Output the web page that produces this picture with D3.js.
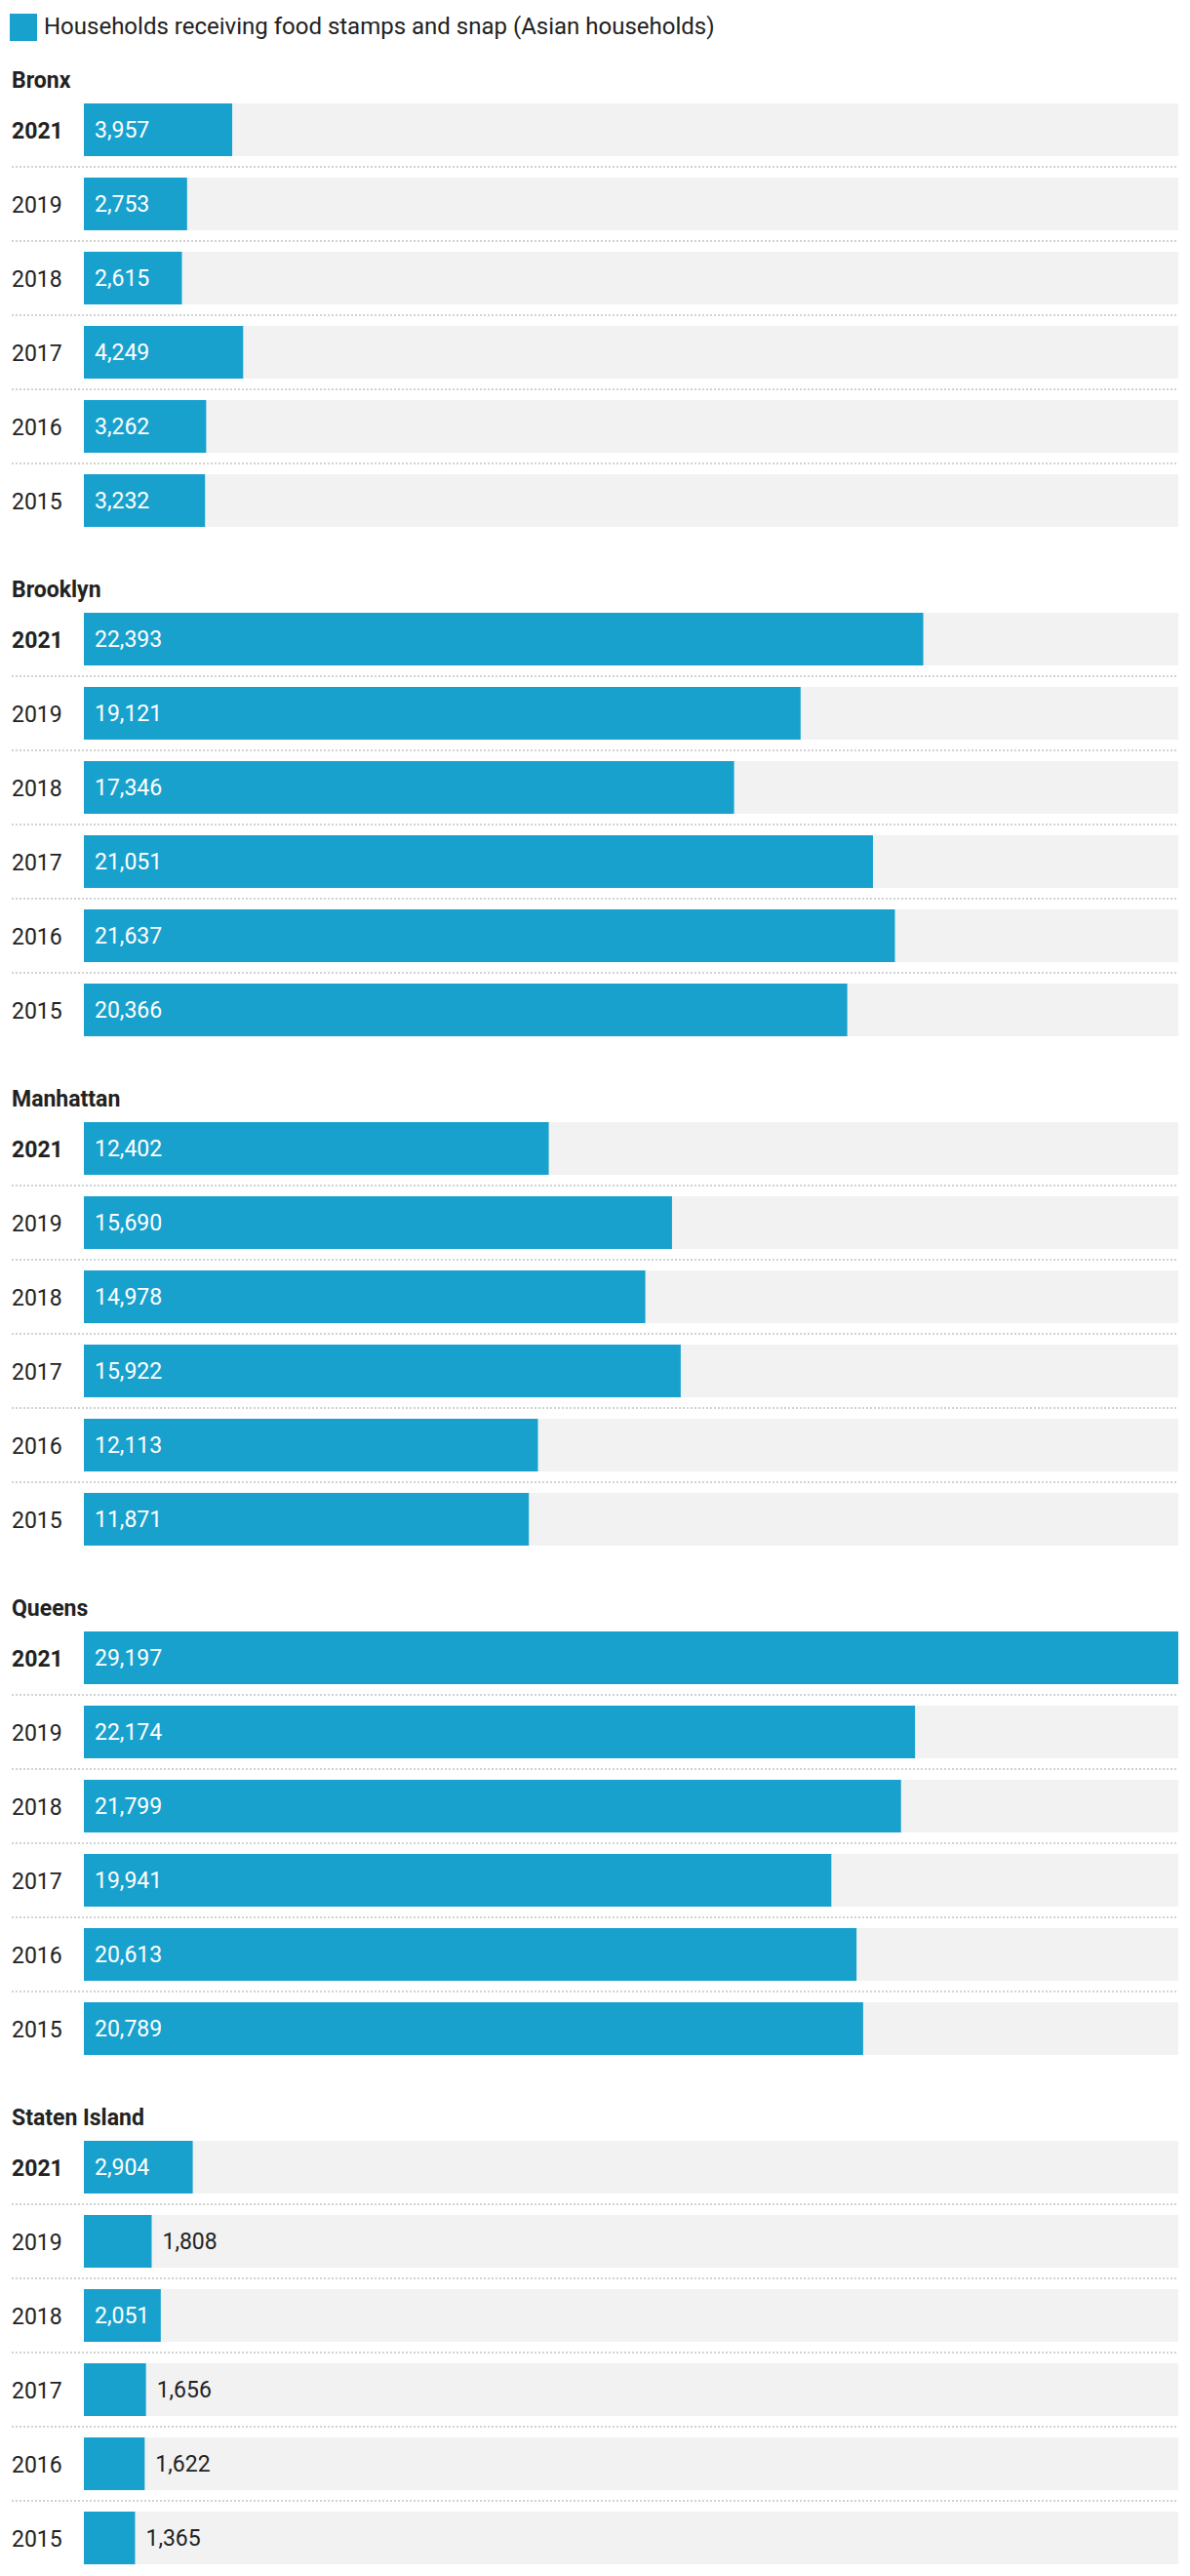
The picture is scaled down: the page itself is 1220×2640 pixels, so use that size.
<!DOCTYPE html>
<html><head><meta charset="utf-8">
<script src="https://cdn.jsdelivr.net/npm/d3@7"></script>
<style>body{margin:0;background:#fff}svg{display:block;font-family:Roboto,"Noto Sans",sans-serif}</style>
</head><body>
<svg id="c" width="1220" height="2640"></svg>
<script>
const seriesName = "Households receiving food stamps and snap (Asian households)";
const boroughs = ["Bronx","Brooklyn","Manhattan","Queens","Staten Island"];
const years = ["2021","2019","2018","2017","2016","2015"];
const bronx = [3957,2753,2615,4249,3262,3232];
const brooklyn = [22393,19121,17346,21051,21637,20366];
const manhattan = [12402,15690,14978,15922,12113,11871];
const queens = [29197,22174,21799,19941,20613,20789];
const statenIsland = [2904,1808,2051,1656,1622,1365];
const values = [bronx,brooklyn,manhattan,queens,statenIsland];

const color = "#19a1cd", bg = "#f2f2f2", textCol = "#222";
const svg = d3.select("#c");
const x0 = 86, x1 = 1208;
const x = d3.scaleLinear().domain([0, d3.max(values.flat())]).range([x0, x1]);
const fmt = d3.format(",");

// legend
svg.append("rect").attr("x",10).attr("y",14).attr("width",28).attr("height",28).attr("fill",color);
svg.append("text").attr("x",45).attr("y",34.5).attr("font-size",24).attr("fill",textCol).text(seriesName);

const sectionTop = 106, sectionPitch = 522, rowPitch = 76, barH = 54;
const sec = d3.scaleBand().domain(boroughs).range([sectionTop, sectionTop + sectionPitch*boroughs.length]).paddingInner(0).paddingOuter(0);
const row = d3.scaleBand().domain(years).range([0, rowPitch*(years.length-1)+barH]).paddingInner((rowPitch-barH)/rowPitch).paddingOuter(0).align(0);

boroughs.forEach((b, bi) => {
  const g = svg.append("g").attr("transform", `translate(0,${sec(b)})`);
  g.append("text").attr("x",12).attr("y",-16).attr("font-size",23).attr("font-weight",700).attr("fill",textCol).text(b);
  years.forEach((yr, yi) => {
    const v = values[bi][yi];
    const y = row(yr), h = row.bandwidth();
    g.append("rect").attr("x",x0).attr("y",y).attr("width",x1-x0).attr("height",h).attr("fill",bg);
    g.append("rect").attr("x",x0).attr("y",y).attr("width",x(v)-x0).attr("height",h).attr("fill",color);
    g.append("text").attr("x",12).attr("y",y+h/2+8.5).attr("font-size",23)
      .attr("font-weight", yi===0?700:400).attr("fill",textCol).text(yr);
    const t = g.append("text").attr("x",x0+11).attr("y",y+h/2+8).attr("font-size",23).attr("fill","#fff").text(fmt(v));
    const tw = t.node().getComputedTextLength();
    if (tw + 22 > x(v)-x0) t.attr("x", x(v)+11).attr("fill",textCol);
    if (yi < years.length-1) {
      g.append("line").attr("x1",12).attr("x2",x1).attr("y1",y+h+11).attr("y2",y+h+11)
        .attr("stroke","#d2d2d2").attr("stroke-width",2).attr("stroke-dasharray","2,2");
    }
  });
});
</script>
</body></html>
